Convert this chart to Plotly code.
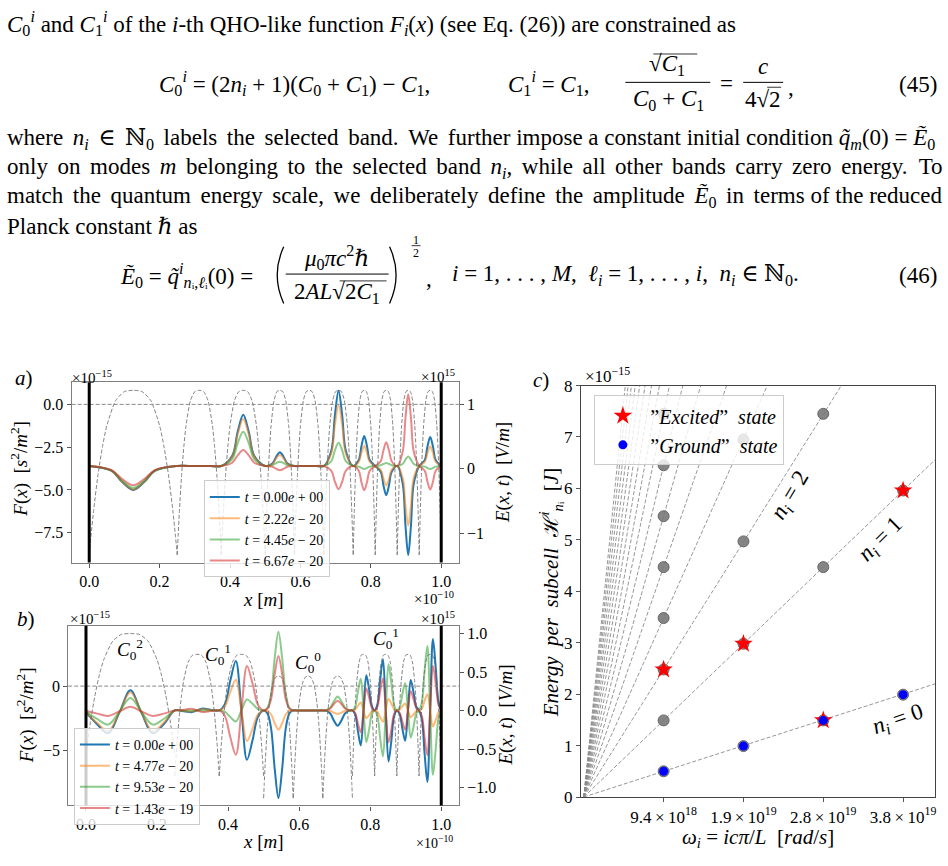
import plotly.graph_objects as go

W, H = 948, 866
SERIF = "Liberation Serif, DejaVu Serif, serif"

# ---------------- data: panels a) and b) ----------------
cell_edges = [0.0, 0.25, 0.375, 0.5, 0.58333, 0.66667, 0.75, 0.8125, 0.875, 0.9375, 1.0]
knot_frac_a = [0.0, 0.25, 0.375, 0.5, 0.625, 0.75]
knot_frac_b = [0.0, 0.125, 0.25, 0.375, 0.5, 0.625, 0.75, 0.875]
arc_frac = [0.0, 0.02, 0.05, 0.1, 0.15, 0.2, 0.3, 0.4, 0.5, 0.6, 0.7, 0.8, 0.85, 0.9, 0.95, 0.98, 1.0]

legend_a = ["<i>t</i> = 0.00<i>e</i> + 00", "<i>t</i> = 2.22<i>e</i> − 20",
            "<i>t</i> = 4.45<i>e</i> − 20", "<i>t</i> = 6.67<i>e</i> − 20"]
legend_b = ["<i>t</i> = 0.00<i>e</i> + 00", "<i>t</i> = 4.77<i>e</i> − 20",
            "<i>t</i> = 9.53<i>e</i> − 20", "<i>t</i> = 1.43<i>e</i> − 19"]

F_a_blue = [-3.6, -3.88, -4.54, -5.0, -4.54, -3.88,
            -3.6, -3.6, -3.6, -3.6, -3.6, -3.6,
            -3.6, -3.0, -1.59, -0.6, -1.59, -3.0,
            -3.6, -3.44, -3.06, -2.8, -3.06, -3.44,
            -3.6, -3.6, -3.6, -3.6, -3.6, -3.6,
            -3.6, -2.72, -0.65, 0.8, -0.65, -2.72,
            -3.6, -3.25, -2.43, -1.85, -2.43, -3.25,
            -3.6, -3.94, -4.74, -5.3, -4.74, -3.94,
            -3.6, -4.64, -7.08, -8.8, -7.08, -4.64,
            -3.6, -3.26, -2.46, -1.9, -2.46, -3.26,
            -3.6]
F_a_orange = [-3.6, -3.87, -4.52, -4.97, -4.52, -3.87,
              -3.6, -3.6, -3.6, -3.6, -3.6, -3.6,
              -3.6, -3.05, -1.76, -0.86, -1.76, -3.05,
              -3.6, -3.47, -3.16, -2.95, -3.16, -3.47,
              -3.6, -3.6, -3.6, -3.6, -3.6, -3.6,
              -3.6, -2.89, -1.21, -0.04, -1.21, -2.89,
              -3.6, -3.37, -2.82, -2.43, -2.82, -3.37,
              -3.6, -3.83, -4.36, -4.74, -4.36, -3.83,
              -3.6, -4.3, -5.93, -7.08, -5.93, -4.3,
              -3.6, -3.37, -2.84, -2.46, -2.84, -3.37,
              -3.6]
F_a_green = [-3.6, -3.86, -4.46, -4.88, -4.46, -3.86,
             -3.6, -3.6, -3.6, -3.6, -3.6, -3.6,
             -3.6, -3.2, -2.26, -1.6, -2.26, -3.2,
             -3.6, -3.55, -3.43, -3.35, -3.43, -3.55,
             -3.6, -3.6, -3.6, -3.6, -3.6, -3.6,
             -3.6, -3.33, -2.69, -2.24, -2.69, -3.33,
             -3.6, -3.64, -3.72, -3.78, -3.72, -3.64,
             -3.6, -3.56, -3.48, -3.42, -3.48, -3.56,
             -3.6, -3.49, -3.23, -3.05, -3.23, -3.49,
             -3.6, -3.64, -3.72, -3.78, -3.72, -3.64,
             -3.6]
F_a_red = [-3.6, -3.83, -4.36, -4.73, -4.36, -3.83,
           -3.6, -3.6, -3.6, -3.6, -3.6, -3.6,
           -3.6, -3.41, -2.98, -2.67, -2.98, -3.41,
           -3.6, -3.65, -3.77, -3.85, -3.77, -3.65,
           -3.6, -3.6, -3.6, -3.6, -3.6, -3.6,
           -3.6, -3.87, -4.51, -4.96, -4.51, -3.87,
           -3.6, -3.88, -4.55, -5.02, -4.55, -3.88,
           -3.6, -3.32, -2.68, -2.22, -2.68, -3.32,
           -3.6, -2.76, -0.79, 0.6, -0.79, -2.76,
           -3.6, -3.88, -4.52, -4.98, -4.52, -3.88,
           -3.6]

F_b_blue = [-2.06, -2.98, -3.69, -2.09, -0.33, -2.09, -3.69, -2.98,
            -1.9, -1.92, -1.99, -2.05, -1.9, -1.75, -1.81, -1.88,
            -1.9, -1.43, 0.44, 1.96, -1.9, -5.76, -4.24, -2.37,
            -1.9, -2.11, -3.27, -6.49, -8.75, -6.49, -3.27, -2.11,
            -1.9, -1.9, -1.9, -1.9, -1.9, -1.9, -1.9, -1.9,
            -1.9, -1.94, -2.14, -2.7, -3.1, -2.7, -2.14, -1.94,
            -1.9, -2.23, -3.56, -4.64, -1.9, 0.84, -0.24, -1.57,
            -1.9, -1.42, 0.52, 2.1, -1.9, -5.9, -4.32, -2.38,
            -1.9, -2.19, -3.33, -4.27, -1.9, 0.47, -0.47, -1.61,
            -1.9, -2.58, -5.29, -7.49, -1.9, 3.69, 1.49, -1.22,
            -1.9]
F_b_orange = [-2.04, -2.87, -3.51, -2.07, -0.49, -2.07, -3.51, -2.87,
              -1.9, -1.91, -1.95, -1.99, -1.9, -1.81, -1.85, -1.89,
              -1.9, -1.61, -0.45, 0.5, -1.9, -4.3, -3.35, -2.19,
              -1.9, -1.95, -2.2, -2.9, -3.4, -2.9, -2.2, -1.95,
              -1.9, -1.9, -1.9, -1.9, -1.9, -1.9, -1.9, -1.9,
              -1.9, -1.91, -1.95, -2.08, -2.17, -2.08, -1.95, -1.91,
              -1.9, -1.83, -1.53, -1.29, -1.9, -2.51, -2.27, -1.97,
              -1.9, -2.01, -2.44, -2.79, -1.9, -1.01, -1.36, -1.79,
              -1.9, -1.84, -1.58, -1.37, -1.9, -2.43, -2.22, -1.96,
              -1.9, -1.75, -1.14, -0.64, -1.9, -3.16, -2.66, -2.05,
              -1.9]
F_b_green = [-2.0, -2.57, -3.01, -2.02, -0.93, -2.02, -3.01, -2.57,
             -1.9, -1.9, -1.9, -1.9, -1.9, -1.9, -1.9, -1.9,
             -1.9, -2.0, -2.42, -2.76, -1.9, -1.04, -1.38, -1.8,
             -1.9, -1.72, -0.67, 2.22, 4.25, 2.22, -0.67, -1.72,
             -1.9, -1.9, -1.9, -1.9, -1.9, -1.9, -1.9, -1.9,
             -1.9, -1.87, -1.68, -1.18, -0.82, -1.18, -1.68, -1.87,
             -1.9, -1.6, -0.4, 0.58, -1.9, -4.38, -3.4, -2.2,
             -1.9, -2.34, -4.08, -5.5, -1.9, 1.7, 0.28, -1.46,
             -1.9, -1.64, -0.61, 0.23, -1.9, -4.03, -3.19, -2.16,
             -1.9, -1.29, 1.15, 3.14, -1.9, -6.94, -4.95, -2.51,
             -1.9]
F_b_red = [-1.93, -2.15, -2.33, -1.98, -1.62, -1.98, -2.33, -2.15,
           -1.9, -1.88, -1.82, -1.77, -1.9, -2.03, -1.98, -1.92,
           -1.9, -2.32, -4.0, -5.37, -1.9, 1.57, 0.2, -1.48,
           -1.9, -1.77, -1.05, 0.95, 2.35, 0.95, -1.05, -1.77,
           -1.9, -1.9, -1.9, -1.9, -1.9, -1.9, -1.9, -1.9,
           -1.9, -1.88, -1.75, -1.4, -1.15, -1.4, -1.75, -1.88,
           -1.9, -2.11, -2.94, -3.61, -1.9, -0.19, -0.86, -1.69,
           -1.9, -1.6, -0.38, 0.6, -1.9, -4.4, -3.42, -2.2,
           -1.9, -2.08, -2.8, -3.39, -1.9, -0.41, -1.0, -1.72,
           -1.9, -2.32, -4.02, -5.4, -1.9, 1.6, 0.22, -1.48,
           -1.9]

# dashed arcs (right axis), values at arc_frac positions inside each cell
arc_a = [-1.34, -1.05, -0.65, -0.09, 0.34, 0.67, 1.06, 1.20, 1.22, 1.20, 1.06, 0.67, 0.34, -0.09, -0.65, -1.05, -1.34]
arc_b_i1 = [-0.58, -0.40, -0.15, 0.19, 0.46, 0.66, 0.90, 0.99, 1.0, 0.99, 0.90, 0.66, 0.46, 0.19, -0.15, -0.40, -0.58]
arc_b_i2 = [-0.85, -0.67, -0.42, -0.08, 0.19, 0.39, 0.63, 0.72, 0.73, 0.72, 0.63, 0.39, 0.19, -0.08, -0.42, -0.67, -0.85]
arc_b_i3 = [-1.14, -0.96, -0.71, -0.37, -0.10, 0.10, 0.34, 0.43, 0.45, 0.43, 0.34, 0.10, -0.10, -0.37, -0.71, -0.96, -1.14]
arcs_a = [arc_a, arc_a, arc_a, arc_a, arc_a, arc_a, arc_a, arc_a, arc_a, arc_a]
arcs_b = [arc_b_i1, arc_b_i2, arc_b_i2, arc_b_i3, arc_b_i3, arc_b_i3,
          arc_b_i2, arc_b_i2, arc_b_i2, arc_b_i2]

C0_label_text = ["<i>C</i><sub>0</sub><sup>2</sup>", "<i>C</i><sub>0</sub><sup>1</sup>",
                 "<i>C</i><sub>0</sub><sup>0</sup>", "<i>C</i><sub>0</sub><sup>1</sup>"]
C0_label_x = [0.124, 0.372, 0.625, 0.845]
C0_label_y = [2.85, 2.47, 1.84, 3.75]

# ---------------- data: panel c) ----------------
omega_i = [9.42e18, 1.884e19, 2.826e19, 3.768e19]
omega_ticktext = ["9.4\u2009×\u200910<sup>18</sup>", "1.9\u2009×\u200910<sup>19</sup>",
                  "2.8\u2009×\u200910<sup>19</sup>", "3.8\u2009×\u200910<sup>19</sup>"]
state_i = [1, 1, 1, 1, 1, 1, 1, 1, 2, 2, 2, 2, 3, 3, 3, 4, 4]
state_energy = [0.50, 1.49, 2.48, 3.48, 4.47, 5.46, 6.45, 7.45,
                0.99, 2.98, 4.97, 6.95,
                1.49, 4.47, 7.45,
                1.99, 5.96]
ground_energy = [0.50, 0.99, 1.49, 1.99]
excited_energy = [2.48, 2.98, 1.49, 5.96]
band_energy_at_omega1 = [0.50, 1.49, 2.48, 3.48, 4.47, 5.46, 6.45, 7.45,
                         8.44, 9.43, 10.43, 11.42, 12.41, 13.41, 14.40, 15.39]
band_labels = ["<i>n</i><sub><i>i</i></sub> = 2", "<i>n</i><sub><i>i</i></sub> = 1", "<i>n</i><sub><i>i</i></sub> = 0"]
band_label_x = [2.59, 3.72, 3.94]
band_label_y = [5.85, 5.0, 1.5]
band_label_angle = [-59, -45, -19]

# ---------------- helpers ----------------
def knots(fracs):
    xs = []
    for a, b in zip(cell_edges[:-1], cell_edges[1:]):
        xs += [a + f * (b - a) for f in fracs]
    return xs + [cell_edges[-1]]

def arc_xy(cells):
    xs, ys = [], []
    for a, b, vals in zip(cell_edges[:-1], cell_edges[1:], cells):
        xs += [a + f * (b - a) for f in arc_frac] + [None]
        ys += list(vals) + [None]
    return xs, ys

def px(x):
    return x / W

def py(y):
    return 1 - y / H

colors = ["#1f77b4", "rgba(255,127,14,0.55)", "rgba(44,160,44,0.55)", "rgba(214,39,40,0.55)"]
GRAYD = "rgba(110,110,110,0.85)"

fig = go.Figure()

# panel a
xa = knots(knot_frac_a)
axx, axy = arc_xy(arcs_a)
fig.add_trace(go.Scatter(x=axx, y=axy, xaxis="x", yaxis="y2", mode="lines",
                         line=dict(color=GRAYD, width=1, dash="4px,2px", shape="spline", smoothing=0.6),
                         showlegend=False, hoverinfo="skip"))
for ys, c, name in zip([F_a_blue, F_a_orange, F_a_green, F_a_red], colors, legend_a):
    fig.add_trace(go.Scatter(x=xa, y=ys, xaxis="x", yaxis="y", mode="lines", name=name,
                             line=dict(color=c, width=2, shape="spline"), legend="legend"))

# panel b
xb = knots(knot_frac_b)
bxx, bxy = arc_xy(arcs_b)
fig.add_trace(go.Scatter(x=bxx, y=bxy, xaxis="x2", yaxis="y4", mode="lines",
                         line=dict(color=GRAYD, width=1, dash="4px,2px", shape="spline", smoothing=0.6),
                         showlegend=False, hoverinfo="skip"))
for ys, c, name in zip([F_b_blue, F_b_orange, F_b_green, F_b_red], colors, legend_b):
    fig.add_trace(go.Scatter(x=xb, y=ys, xaxis="x2", yaxis="y3", mode="lines", name=name,
                             line=dict(color=c, width=2, shape="spline"), legend="legend2"))

# panel c
X_END = 4.4
for e1 in band_energy_at_omega1:
    fig.add_trace(go.Scatter(x=[0, X_END * omega_i[0]], y=[0, X_END * e1], xaxis="x3", yaxis="y5",
                             mode="lines", line=dict(color="rgba(140,140,140,0.9)", width=1, dash="4px,2px"),
                             showlegend=False, hoverinfo="skip"))
fig.add_trace(go.Scatter(x=[omega_i[i - 1] for i in state_i], y=state_energy, xaxis="x3", yaxis="y5",
                         mode="markers", marker=dict(size=11, color="rgba(120,120,120,0.9)",
                                                     line=dict(color="rgba(95,95,95,0.9)", width=1)),
                         showlegend=False, hoverinfo="skip"))
fig.add_trace(go.Scatter(x=omega_i, y=excited_energy, xaxis="x3", yaxis="y5", mode="markers",
                         name="”<i>Excited</i>”  <i>state</i>", legend="legend3", legendrank=1,
                         marker=dict(symbol="star", size=14, color="red", line=dict(width=0))))
fig.add_trace(go.Scatter(x=omega_i, y=ground_energy, xaxis="x3", yaxis="y5", mode="markers",
                         name="”<i>Ground</i>”  <i>state</i>", legend="legend3", legendrank=2,
                         marker=dict(symbol="circle", size=9, color="blue", line=dict(width=0))))

tickfont = dict(family=SERIF, size=16, color="black")
frame = dict(showline=True, mirror=True, linecolor="#7f7f7f", linewidth=1.2, ticks="outside",
             ticklen=4, tickcolor="#555", tickfont=tickfont, showgrid=False, zeroline=False)
frame_c = {**frame, "linecolor": "#444", "tickfont": dict(family=SERIF, size=17, color="black")}
xt = [0, 0.2, 0.4, 0.6, 0.8, 1.0]
xtt = ["0.0", "0.2", "0.4", "0.6", "0.8", "1.0"]
right_ax = dict(ticks="outside", ticklen=4, tickcolor="#555", tickfont=tickfont,
                showgrid=False, zeroline=False, showline=False)

fig.update_layout(
    width=W, height=H, margin=dict(l=0, r=0, t=0, b=0),
    paper_bgcolor="white", plot_bgcolor="white",
    font=dict(family=SERIF, size=15, color="black"),
    xaxis=dict(domain=[px(71.7), px(459.3)], anchor="y", range=[-0.05, 1.05],
               tickvals=xt, ticktext=xtt, **frame),
    yaxis=dict(domain=[py(566), py(381.7)], anchor="x", range=[-9.25, 1.29],
               tickvals=[0, -2.5, -5, -7.5], ticktext=["0.0", "−2.5", "−5.0", "−7.5"], **frame),
    yaxis2=dict(overlaying="y", side="right", anchor="x", range=[-1.46, 1.344],
                tickvals=[1, 0, -1], ticktext=["1", "0", "−1"], **right_ax),
    xaxis2=dict(domain=[px(68.3), px(459.5)], anchor="y3", range=[-0.05, 1.05],
                tickvals=xt, ticktext=xtt, **frame),
    yaxis3=dict(domain=[py(814.3), py(630.7)], anchor="x2", range=[-9.33, 4.71],
                tickvals=[0, -5], ticktext=["0", "−5"], **frame),
    yaxis4=dict(overlaying="y3", side="right", anchor="x2", range=[-1.233, 1.10],
                tickvals=[1, 0.5, 0, -0.5, -1], ticktext=["1.0", "0.5", "0.0", "−0.5", "−1.0"], **right_ax),
    xaxis3=dict(domain=[px(581.7), px(936)], anchor="y5", range=[-0.034 * omega_i[0], X_END * omega_i[0]],
                tickvals=omega_i, ticktext=omega_ticktext, **frame_c),
    yaxis5=dict(domain=[py(805.7), py(385)], anchor="x3", range=[0, 8],
                tickvals=[0, 1, 2, 3, 4, 5, 6, 7, 8], ticktext=[str(v) for v in range(9)], **frame_c),
    legend=dict(x=px(204), y=py(482), xanchor="left", yanchor="top", bgcolor="rgba(255,255,255,0.8)",
                bordercolor="#cccccc", borderwidth=1, font=dict(family=SERIF, size=14), itemwidth=30),
    legend2=dict(x=px(74), y=py(735), xanchor="left", yanchor="top", bgcolor="rgba(255,255,255,0.8)",
                 bordercolor="#cccccc", borderwidth=1, font=dict(family=SERIF, size=14), itemwidth=30),
    legend3=dict(x=px(595), y=py(395), xanchor="left", yanchor="top", bgcolor="rgba(255,255,255,0.8)",
                 bordercolor="#cccccc", borderwidth=1, font=dict(family=SERIF, size=20), itemwidth=45),
)

shapes = []
for xr, yr, xd in [("x", "y", "x domain"), ("x2", "y3", "x2 domain")]:
    shapes.append(dict(type="line", xref=xd, yref=yr, x0=0, x1=1, y0=0, y1=0,
                       line=dict(color="#888", width=1, dash="4px,2px")))
    for xv in [0, 1]:
        shapes.append(dict(type="line", xref=xr, yref=yr + " domain", x0=xv, x1=xv, y0=0, y1=1,
                           line=dict(color="black", width=3)))

def hline(x0, x1, y, w=1.0):
    shapes.append(dict(type="line", xref="paper", yref="paper", x0=px(x0), x1=px(x1),
                       y0=py(y), y1=py(y), line=dict(color="black", width=w)))

# fraction bars / radicals (layout text decoration)
hline(626, 711, 75)
hline(744, 784, 75)
hline(286, 389, 271)
hline(412, 421, 242, 0.8)
hline(654, 698, 46, 0.8)
hline(768, 782, 80, 0.8)
hline(340, 387, 278, 0.8)
for xs, xc in [(284, 271), (390, 403)]:
    shapes.append(dict(type="path", xref="paper", yref="paper",
                       path=f"M {px(xs)},{py(243)} Q {px(xc)},{py(272)} {px(xs)},{py(301)}",
                       line=dict(color="black", width=1.3)))
fig.update_layout(shapes=shapes)

ann = []

def txt(x, y, s, size=20, xanchor="left", yanchor="middle", angle=0, xref="paper", yref="paper"):
    if xref == "paper":
        x = px(x)
    if yref == "paper":
        y = py(y)
    ann.append(dict(x=x, y=y, xref=xref, yref=yref, text=s, showarrow=False, xanchor=xanchor,
                    yanchor=yanchor, textangle=angle, font=dict(family=SERIF, size=size, color="black")))

def justify(s, n_extra):
    parts = s.split(" ")
    out = parts[0]
    for k, p in enumerate(parts[1:]):
        out += (" \u2006" if k < n_extra else " ") + p
    return out

T = 23
txt(5, 15, "<i>C</i><sub>0</sub><sup><i>i</i></sup> and <i>C</i><sub>1</sub><sup><i>i</i></sup> of the <i>i</i>-th QHO-like function <i>F<sub>i</sub></i>(<i>x</i>) (see Eq. (26)) are constrained as", T)
txt(157, 76, "<i>C</i><sub>0</sub><sup><i>i</i></sup> = (2<i>n<sub>i</sub></i> + 1)(<i>C</i><sub>0</sub> + <i>C</i><sub>1</sub>) − <i>C</i><sub>1</sub>,", T)
txt(507, 76, "<i>C</i><sub>1</sub><sup><i>i</i></sup> = <i>C</i><sub>1</sub>,", T)
txt(668, 57, "√<i>C</i><sub>1</sub>", T, xanchor="center")
txt(669, 93, "<i>C</i><sub>0</sub> + <i>C</i><sub>1</sub>", T, xanchor="center")
txt(727, 76, "=", T, xanchor="center")
txt(764, 59, "<i>c</i>", T, xanchor="center")
txt(764, 93, "4√2", T, xanchor="center")
txt(787, 80, ",", T)
txt(940, 77, "(45)", T, xanchor="right")

txt(5, 133, justify("where <i>n<sub>i</sub></i> ∈ ℕ<sub>0</sub> labels the selected band. We further impose a constant initial condition <i>q̃<sub>m</sub></i>(0) = <i>Ẽ</i><sub>0</sub>", 9), T)
txt(5, 163, justify("only on modes <i>m</i> belonging to the selected band <i>n<sub>i</sub></i>, while all other bands carry zero energy.  To", 16), T)
txt(5, 192, justify("match the quantum energy scale, we deliberately define the amplitude <i>Ẽ</i><sub>0</sub> in terms of the reduced", 12), T)
txt(5, 222, "Planck constant <i>ℏ</i> as", T)

txt(118, 272, "<i>Ẽ</i><sub>0</sub> = <i>q̃</i><sup><i>i</i></sup><sub><i>n</i>ᵢ,<i>ℓ</i>ᵢ</sub>(0) =", T)
txt(337, 254, "<i>μ</i><sub>0</sub><i>πc</i><sup>2</sup><i>ℏ</i>", T, xanchor="center")
txt(337, 290, "2<i>AL</i>√2<i>C</i><sub>1</sub>", T, xanchor="center")
txt(416, 236, "1", 12, xanchor="center")
txt(416, 249, "2", 12, xanchor="center")
txt(424, 276, ",", T)
txt(450, 272, "<i>i</i> = 1, . . . , <i>M</i>,  <i>ℓ<sub>i</sub></i> = 1, . . . , <i>i</i>,  <i>n<sub>i</sub></i> ∈ ℕ<sub>0</sub>.", T)
txt(940, 272, "(46)", T, xanchor="right")

# panel annotations
txt(13, 377, "<i>a</i>)", 21)
txt(15, 624, "<i>b</i>)", 21)
txt(532, 379, "<i>c</i>)", 21)
for (xx, yy) in [(70, 376), (68, 623)]:
    txt(xx, yy, "×10<sup>−15</sup>", 15)
for yy in [375, 623]:
    txt(419, yy, "×10<sup>15</sup>", 15)
txt(412, 602, "×10<sup>−10</sup>", 15)
txt(414, 852, "×10<sup>−10</sup>", 14)
txt(584, 374, "×10<sup>−15</sup>", 17)

txt(264, 604, "<i>x</i> [<i>m</i>]", 19, xanchor="center")
txt(264, 851, "<i>x</i> [<i>m</i>]", 19, xanchor="center")
txt(20, 470, "<i>F</i>(<i>x</i>)  [<i>s</i><sup>2</sup>/<i>m</i><sup>2</sup>]", 19, xanchor="center", angle=-90)
txt(25, 722, "<i>F</i>(<i>x</i>)  [<i>s</i><sup>2</sup>/<i>m</i><sup>2</sup>]", 19, xanchor="center", angle=-90)
txt(503, 474, "<i>E</i>(<i>x</i>, <i>t</i>)  [<i>V</i>/<i>m</i>]", 19, xanchor="center", angle=-90)
txt(507, 722, "<i>E</i>(<i>x</i>, <i>t</i>)  [<i>V</i>/<i>m</i>]", 19, xanchor="center", angle=-90)
txt(759, 848, "<i>ω</i><sub><i>i</i></sub> = <i>icπ</i>/<i>L</i>  [<i>rad</i>/<i>s</i>]", 21, xanchor="center")
txt(552, 596, "<i>Energy  per  subcell</i>  ℋ<sup><i>i</i></sup><sub><i>n</i>ᵢ</sub>  [<i>J</i>]", 21, xanchor="center", angle=-90)

for s, xx, yy in zip(C0_label_text, C0_label_x, C0_label_y):
    txt(xx, yy, s, 19, xanchor="center", xref="x2", yref="y3")
for s, xx, yy, ang in zip(band_labels, band_label_x, band_label_y, band_label_angle):
    txt(xx * omega_i[0], yy, s, 23, xanchor="center", angle=ang, xref="x3", yref="y5")

fig.update_layout(annotations=ann)
fig.write_html("out.html")
